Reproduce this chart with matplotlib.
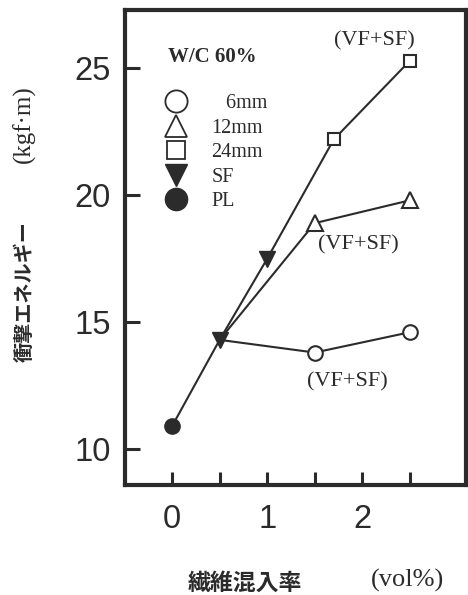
import matplotlib
matplotlib.use("Agg")
import matplotlib.pyplot as plt
from matplotlib.lines import Line2D

# ---- data ----
x_pl = [0.0]
y_pl = [10.9]
x_sf = [0.5, 1.0]
y_sf = [14.3, 17.5]
x_6mm = [1.5, 2.5]
y_6mm = [13.8, 14.6]
x_12mm = [1.5, 2.5]
y_12mm = [18.9, 19.8]
x_24mm = [1.7, 2.5]
y_24mm = [22.2, 25.3]

xticks = [0, 0.5, 1, 1.5, 2, 2.5]
xticklabels = ["0", "", "1", "", "2", ""]
yticks = [10, 15, 20, 25]
yticklabels = ["10", "15", "20", "25"]

legend_labels = ["   6mm", "12mm", "24mm", "SF", "PL"]
annot_text = "(VF+SF)"

C = "#2b2b2b"
CJK = ["Noto Sans CJK JP", "DejaVu Sans"]
SERIF = ["Liberation Serif", "DejaVu Serif"]

fig = plt.figure(figsize=(4.68, 5.95), dpi=100)
ax = fig.add_axes([125/468, 1 - 485/595, 341/468, 475/595])
ax.set_xlim(-0.495, 3.09)
ax.set_ylim(8.58, 27.3)

lw = 1.5
# lines
ax.plot(x_pl + x_sf + x_24mm, y_pl + y_sf + y_24mm, color=C, lw=lw, zorder=2)
ax.plot([x_sf[0]] + x_12mm, [y_sf[0]] + y_12mm, color=C, lw=lw, zorder=2)
ax.plot([x_sf[0]] + x_6mm, [y_sf[0]] + y_6mm, color=C, lw=lw, zorder=2)

# markers
ax.plot(x_pl, y_pl, "o", ms=11, mfc=C, mec=C, zorder=3)
ax.plot(x_sf, y_sf, "v", ms=11, mfc=C, mec=C, zorder=3)
ax.plot(x_6mm, y_6mm, "o", ms=10.5, mfc="white", mec=C, mew=1.5, zorder=3)
ax.plot(x_12mm, y_12mm, "^", ms=11, mfc="white", mec=C, mew=1.5, zorder=3)
ax.plot(x_24mm, y_24mm, "s", ms=9, mfc="white", mec=C, mew=1.5, zorder=3)

# spines & ticks
for s in ax.spines.values():
    s.set_linewidth(3)
    s.set_color(C)
ax.set_xticks(xticks)
ax.set_xticklabels(xticklabels)
ax.set_yticks(yticks)
ax.set_yticklabels(yticklabels)
ax.tick_params(axis="y", direction="in", length=11, width=2.2, color=C, pad=10,
               labelsize=23.5, labelcolor=C)
ax.tick_params(axis="x", direction="in", length=9.5, width=2.2, color=C, pad=14,
               labelsize=23.5, labelcolor=C)
for lab in ax.get_xticklabels() + ax.get_yticklabels():
    lab.set_fontfamily("Liberation Sans")

# legend
fig.text(168/468, 1 - 57/595, "W/C 60%", family=SERIF, fontsize=15,
         fontweight="bold", color=C, va="center", ha="left")
handles = [
    Line2D([], [], ls="none", marker="o", ms=16, mfc="white", mec=C, mew=1.3),
    Line2D([], [], ls="none", marker="^", ms=16, mfc="white", mec=C, mew=1.3),
    Line2D([], [], ls="none", marker="s", ms=13, mfc="white", mec=C, mew=1.3),
    Line2D([], [], ls="none", marker="v", ms=16, mfc=C, mec=C),
    Line2D([], [], ls="none", marker="o", ms=16, mfc=C, mec=C),
]
leg = ax.legend(handles, legend_labels, loc="upper left",
                bbox_to_anchor=(166/468, 1 - 94/595), bbox_transform=fig.transFigure,
                frameon=False, prop={"family": "Liberation Serif", "size": 14.5},
                handlelength=1.0, handletextpad=1.25, labelspacing=0.27,
                borderpad=0, borderaxespad=0)
for t in leg.get_texts():
    t.set_color(C)

# annotations
ax.text(2.13, 26.10, annot_text, family=SERIF, fontsize=16, color=C,
        ha="center", va="center")
ax.text(1.96, 18.05, annot_text, family=SERIF, fontsize=16, color=C,
        ha="center", va="center")
ax.text(1.84, 12.66, annot_text, family=SERIF, fontsize=16, color=C,
        ha="center", va="center")

# axis labels
fig.text(24/468, 1 - 292/595, "衝撃エネルギー", family=CJK, fontsize=14.5,
         fontweight="bold", rotation=90, ha="center", va="center", color=C)
fig.text(24/468, 1 - 124/595, "(kgf·m)", family=SERIF, fontsize=18,
         rotation=90, ha="center", va="center", color=C)
fig.text(245/468, 1 - 583/595, "繊維混入率", family=CJK, fontsize=16.5,
         fontweight="bold", ha="center", va="center", color=C)
fig.text(407/468, 1 - 580/595, "(vol%)", family=SERIF, fontsize=19,
         ha="center", va="center", color=C)

fig.savefig("out.png", dpi=100, facecolor="white")
